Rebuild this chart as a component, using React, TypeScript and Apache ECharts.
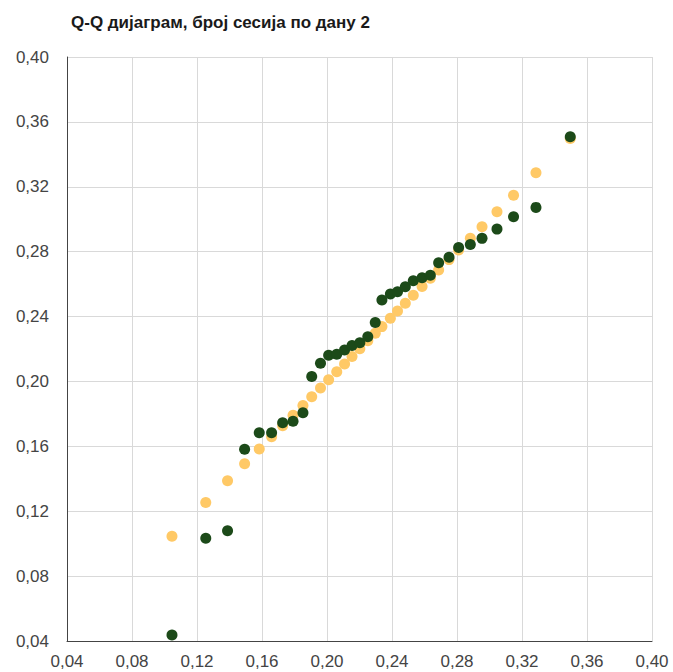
import React, { useEffect, useRef } from "react";
import * as echarts from "echarts";

const titleText = "Q-Q дијаграм, број сесија по дану 2";

// theoretical quantiles (x axis) — yellow reference points lie at y = x
const theoretical = [
  0.1046, 0.1254, 0.1388, 0.1493, 0.1583, 0.1659, 0.1727, 0.1791, 0.1852,
  0.1906, 0.196, 0.201, 0.206, 0.2108, 0.2154, 0.2202, 0.2251, 0.2297,
  0.2338, 0.239, 0.2434, 0.2482, 0.2531, 0.2585, 0.2636, 0.2687, 0.2751,
  0.281, 0.2882, 0.2954, 0.3046, 0.3148, 0.3286, 0.3497,
];

// sorted sample values (green points)
const sample = [
  0.0437, 0.1033, 0.108, 0.1582, 0.1684, 0.1684, 0.1745, 0.1754, 0.1807,
  0.203, 0.2112, 0.2161, 0.2167, 0.2194, 0.2222, 0.2239, 0.2276, 0.2363,
  0.2502, 0.2539, 0.2553, 0.2584, 0.2621, 0.2639, 0.2654, 0.2732, 0.2765,
  0.2826, 0.2844, 0.2882, 0.2939, 0.3015, 0.3073, 0.3508,
];

const axisMin = 0.04;
const axisMax = 0.4;
const axisStep = 0.04;

const fmt = (v: number) => v.toFixed(2).replace(".", ",");

export default function App() {
  const ref = useRef<HTMLDivElement>(null);
  useEffect(() => {
    if (!ref.current) return;
    const chart = echarts.init(ref.current, undefined, { renderer: "svg" });
    const axisCommon = {
      type: "value" as const,
      min: axisMin,
      max: axisMax,
      interval: axisStep,
      axisTick: { show: false },
      splitLine: { show: true, lineStyle: { color: "#d9d9d9", width: 1 } },
      axisLabel: {
        formatter: fmt,
        color: "#444",
        fontSize: 17,
        fontFamily: "Liberation Sans, Arial, sans-serif",
      },
    };
    chart.setOption({
      animation: false,
      backgroundColor: "#fff",
      title: {
        text: titleText,
        left: 66,
        top: 9,
        textStyle: {
          fontSize: 17,
          fontWeight: "bold",
          color: "#1a1a1a",
          fontFamily: "Liberation Sans, Arial, sans-serif",
        },
      },
      grid: { left: 67, top: 57, right: 21, bottom: 31, containLabel: false },
      xAxis: {
        ...axisCommon,
        axisLine: { show: true, onZero: false, lineStyle: { color: "#444", width: 1 } },
        axisLabel: { ...axisCommon.axisLabel, margin: 12 },
      },
      yAxis: {
        ...axisCommon,
        axisLine: { show: true, onZero: false, lineStyle: { color: "#444", width: 1 } },
        axisLabel: { ...axisCommon.axisLabel, margin: 18 },
      },
      series: [
        {
          type: "scatter",
          symbolSize: 11,
          itemStyle: { color: "#ffc966", opacity: 1 },
          data: theoretical.map((t) => [t, t]),
        },
        {
          type: "scatter",
          symbolSize: 11,
          itemStyle: { color: "#1c4a19", opacity: 1 },
          data: theoretical.map((t, i) => [t, sample[i]]),
        },
      ],
    });
    return () => chart.dispose();
  }, []);
  return (
    <div
      ref={ref}
      style={{ position: "fixed", left: 0, top: 0, width: 673, height: 672 }}
    />
  );
}
